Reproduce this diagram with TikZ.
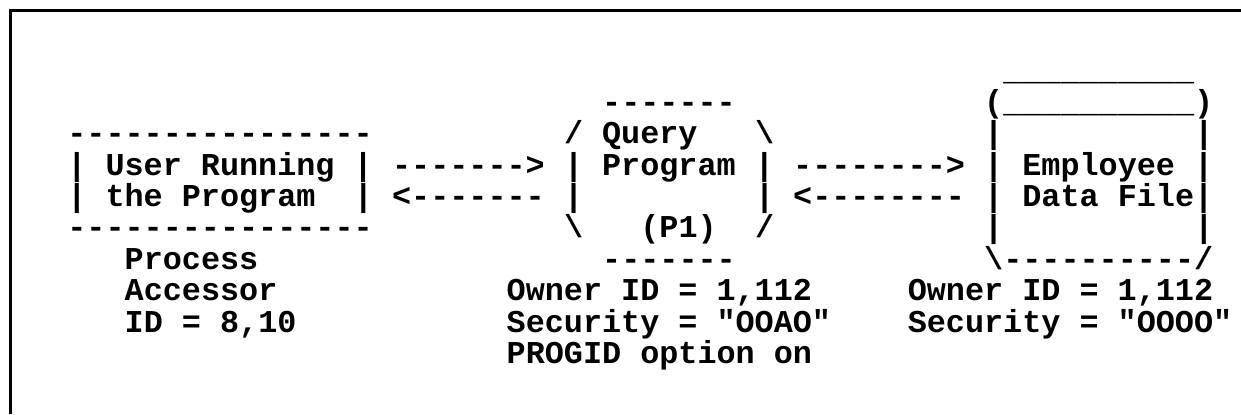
\documentclass[tikz,border=0pt]{standalone}
\usepackage{fontspec}
\setmonofont{Liberation Mono}

\begin{document}
\begin{tikzpicture}[x=0.5pt, y=-0.5pt,
		chars/.style={font=\ttfamily\bfseries\fontsize{15.9}{16}\selectfont, anchor=base west, inner sep=0pt}]
		%%%%% START %%%%%
		
		\useasboundingbox (0,0) rectangle (1241,414);
		\draw[line width=1.5pt] (10,414) -- (10,10) -- (1241,10);
		
		% one unit = one character cell
		\begin{scope}[shift={(33.5pt,-40.4pt)}, x=9.55pt, y=-15.7pt]
		
		% user box
		\node[chars] (usertop) at (0,2) {----------------};
		\node[chars] (userA) at (0,3) {| User Running |};
		\node[chars] (userB) at (0,4) {| the Program};
		\node[chars] (userBr) at (15,4) {|};
		\node[chars] (userbot) at (0,5) {----------------};
		\node[chars] (procA) at (3,6) {Process};
		\node[chars] (procB) at (3,7) {Accessor};
		\node[chars] (procC) at (3,8) {ID = 8,10};
		
		% arrows
		\node[chars] (callq) at (17,3) {------->};
		\node[chars] (backu) at (17,4) {<-------};
		\node[chars] (callf) at (38,3) {-------->};
		\node[chars] (backq) at (38,4) {<--------};
		
		% query program
		\node[chars] (qtop) at (28,1) {-------};
		\node[chars] (qA) at (26,2) {/ Query};
		\node[chars] (qAr) at (36,2) {\textbackslash};
		\node[chars] (qB) at (26,3) {| Program |};
		\node[chars] (qCl) at (26,4) {|};
		\node[chars] (qCr) at (36,4) {|};
		\node[chars] (qDl) at (26,5) {\textbackslash};
		\node[chars] (qD) at (30,5) {(P1)};
		\node[chars] (qDr) at (36,5) {/};
		\node[chars] (qbot) at (28,6) {-------};
		\node[chars] (qownr) at (23,7) {Owner ID = 1,112};
		\node[chars] (qsec) at (23,8) {Security = "OOAO"};
		\node[chars] (qopt) at (23,9) {PROGID option on};
		
		% employee data file
		\node[chars] (ftop) at (49,0) {\_\_\_\_\_\_\_\_\_\_};
		\node[chars] (flid) at (48,1) {(\_\_\_\_\_\_\_\_\_\_)};
		\node[chars] (fAl) at (48,2) {|};
		\node[chars] (fAr) at (59,2) {|};
		\node[chars] (fB) at (48,3) {| Employee |};
		\node[chars] (fC) at (48,4) {| Data File|};
		\node[chars] (fDl) at (48,5) {|};
		\node[chars] (fDr) at (59,5) {|};
		\node[chars] (fbot) at (48,6) {\textbackslash----------/};
		\node[chars] (fownr) at (44,7) {Owner ID = 1,112};
		\node[chars] (fsec) at (44,8) {Security = "OOOO"};
		
		\end{scope}
		
		%%%%% END %%%%%
	\end{tikzpicture}
\end{document}
